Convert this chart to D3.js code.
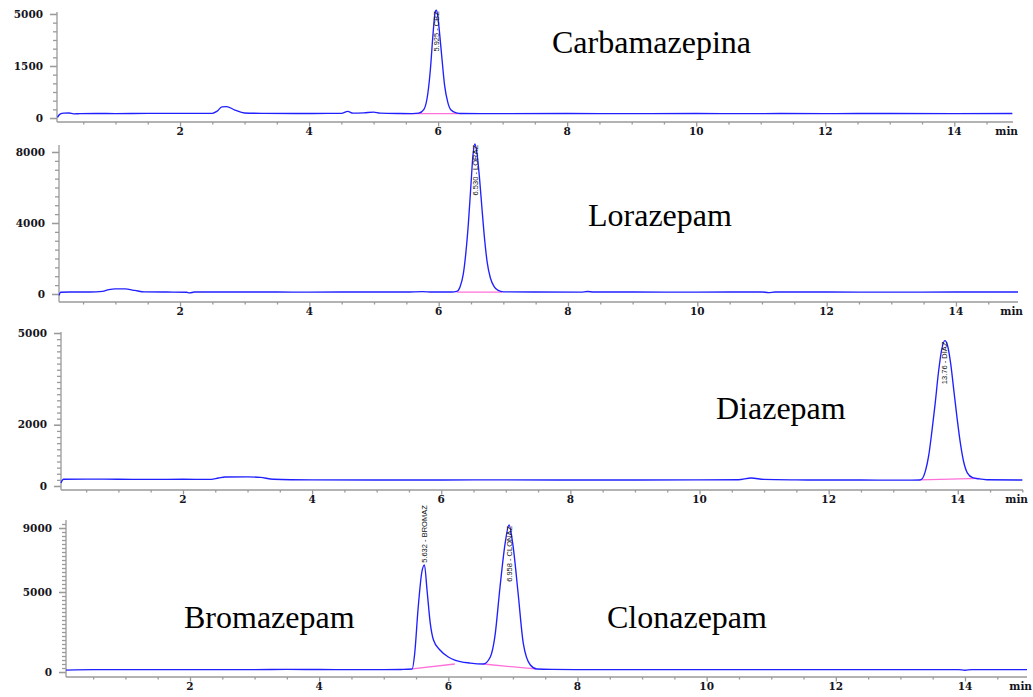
<!DOCTYPE html>
<html>
<head>
<meta charset="utf-8">
<script src="https://cdn.jsdelivr.net/npm/d3@7"></script>
<style>
  body {
    margin: 0;
    background: #fff;
  }

  #chart {
    display: block;
  }

  .trace {
    fill: none;
    stroke: #2020ff;
    stroke-width: 1.35px;
  }

  .baseline {
    fill: none;
    stroke: #ff70d8;
    stroke-width: 1.3px;
  }

  .axis-line,
  .tick-mark {
    stroke: #9a9a9a;
    stroke-width: 1.3px;
  }

  .tick-label {
    font-family: "DejaVu Serif", serif;
    font-weight: bold;
    font-size: 10.5px;
    fill: #141420;
  }

  .peak-label {
    font-family: "Liberation Sans", Arial, sans-serif;
    font-size: 7.5px;
    fill: #111;
  }

  .compound {
    font-family: "Liberation Serif", "Times New Roman", serif;
    font-size: 32px;
    fill: #000;
  }
</style>
</head>
<body>
<svg id="chart" width="1033" height="697"></svg>
<script>
// ---- data (time in min, signal) ----
const xMajorTicks = [2, 4, 6, 8, 10, 12, 14];

const carbaTrace = [
  [0.10, 20], [0.14, 110], [0.2, 140], [0.28, 145], [0.35, 120], [0.45, 125],
  [0.7, 130], [1.0, 128], [1.5, 135], [2.0, 132], [2.3, 135], [2.5, 135],
  [2.57, 190], [2.65, 320], [2.72, 330], [2.85, 230], [3.0, 145], [3.3, 135],
  [3.8, 130], [4.3, 132], [4.5, 132], [4.6, 190], [4.68, 140], [4.85, 150],
  [5.0, 170], [5.1, 140], [5.4, 130], [5.6, 128], [5.7, 140], [5.78, 250],
  [5.84, 700], [5.88, 1400], [5.92, 2400], [5.95, 3000], [5.97, 3110],
  [5.99, 3000], [6.02, 2500], [6.06, 1700], [6.1, 950], [6.15, 450],
  [6.2, 230], [6.28, 150], [6.36, 130], [7, 128], [8, 130], [9, 125],
  [10, 130], [10.8, 125], [11.3, 130], [12, 128], [13, 130], [14, 128],
  [14.9, 130]
];
const carbaBase = [[5.44, 125], [6.36, 128]];
const carbaYTicks = [0, 1500, 3000];
const carbaYLabels = ["0", "1500", "5000"];
const carbaPeaks = [[5.97, 3110, "5.925 - CBZ"]];

const loraTrace = [
  [0.13, -80], [0.15, 100], [0.3, 110], [0.6, 115], [0.8, 150], [0.9, 250],
  [1.0, 290], [1.15, 285], [1.3, 200], [1.45, 120], [1.8, 110], [2.1, 100],
  [2.15, 60], [2.22, 110], [2.6, 110], [3.0, 115], [3.5, 110], [4.0, 105],
  [4.5, 110], [5.0, 115], [5.5, 110], [5.75, 130], [5.9, 110], [6.2, 115],
  [6.28, 150], [6.33, 400], [6.38, 1100], [6.42, 2300], [6.46, 4000],
  [6.5, 6200], [6.53, 7800], [6.56, 8450], [6.59, 8000], [6.63, 6600],
  [6.67, 4800], [6.71, 3100], [6.75, 1800], [6.8, 900], [6.86, 400],
  [6.92, 200], [7.0, 120], [7.5, 110], [8.2, 105], [8.3, 140], [8.4, 110],
  [9.0, 110], [10.0, 105], [11.0, 115], [11.1, 80], [11.2, 110], [12, 110],
  [13, 105], [14, 110], [14.96, 110]
];
const loraBase = [[6.28, 100], [6.98, 100]];
const loraYTicks = [0, 4000, 8000];
const loraYLabels = ["0", "4000", "8000"];
const loraPeaks = [[6.56, 8450, "6.530 - LORAZ"]];

const diazTrace = [
  [0.11, 100], [0.15, 220], [0.5, 225], [1.0, 220], [1.5, 215], [2.0, 220],
  [2.4, 215], [2.55, 260], [2.65, 295], [3.0, 300], [3.2, 280], [3.4, 220],
  [4.0, 200], [5, 195], [6, 195], [7, 200], [8, 195], [9, 195], [10, 200],
  [10.6, 205], [10.8, 260], [11.0, 215], [11.5, 200], [12, 195], [12.5, 195],
  [13, 190], [13.41, 195], [13.45, 240], [13.5, 500], [13.55, 1000],
  [13.6, 1800], [13.65, 2700], [13.7, 3700], [13.75, 4450], [13.8, 4750],
  [13.84, 4600], [13.89, 4000], [13.94, 3100], [13.99, 2200], [14.04, 1400],
  [14.09, 800], [14.15, 420], [14.23, 270], [14.33, 230], [14.45, 205],
  [15.0, 195]
];
const diazBase = [[13.41, 200], [14.34, 250]];
const diazYTicks = [0, 2000, 5000];
const diazYLabels = ["0", "2000", "5000"];
const diazPeaks = [[13.8, 4750, "13.76 - DIAZ"]];

const mixTrace = [
  [0.08, 120], [0.5, 150], [1, 150], [2, 150], [3, 150], [3.5, 160],
  [4, 155], [4.5, 150], [5.0, 150], [5.3, 160], [5.44, 190], [5.48, 1190],
  [5.53, 3875], [5.59, 6250], [5.63, 6700], [5.67, 5125], [5.72, 3060],
  [5.77, 2000], [5.87, 1375], [6.0, 940], [6.1, 750], [6.34, 560],
  [6.54, 500], [6.65, 940], [6.72, 2190], [6.8, 5300], [6.88, 8060],
  [6.94, 9190], [7.0, 7940], [7.08, 4940], [7.16, 1810], [7.27, 440],
  [7.37, 190], [7.6, 160], [8, 150], [9, 150], [10, 150], [11, 150],
  [12, 150], [13, 150], [13.9, 150], [14.0, 110], [14.1, 150], [14.96, 150]
];
const bromBase = [[5.44, 190], [6.1, 500]];
const clonBase = [[6.54, 500], [7.35, 190]];
const mixYTicks = [0, 5000, 9000];
const mixYLabels = ["0", "5000", "9000"];
const mixPeaks = [
  [5.63, 6700, "5.632 - BROMAZ"],
  [6.94, 9190, "6.958 - CLONAZ"]
];

const compoundNames = ["Carbamazepina", "Lorazepam", "Diazepam", "Bromazepam", "Clonazepam"];

// ---- panel layout ----
const panels = [
  {
    left: 57, right: 1013, top: 12, bottom: 122,
    xDomain: [0.093, 14.91], yDomain: [-115, 3057], yMinor: 250,
    trace: carbaTrace, bases: [carbaBase], peaks: carbaPeaks,
    yTicks: carbaYTicks, yLabels: carbaYLabels,
    names: [[compoundNames[0], 552, 53]]
  },
  {
    left: 59, right: 1018, top: 145, bottom: 302,
    xDomain: [0.128, 14.96], yDomain: [-451, 8394], yMinor: 500,
    trace: loraTrace, bases: [loraBase], peaks: loraPeaks,
    yTicks: loraYTicks, yLabels: loraYLabels,
    names: [[compoundNames[1], 588, 226]]
  },
  {
    left: 61, right: 1023, top: 332, bottom: 490,
    xDomain: [0.111, 15.01], yDomain: [-131, 5033], yMinor: 200,
    trace: diazTrace, bases: [diazBase], peaks: diazPeaks,
    yTicks: diazYTicks, yLabels: diazYLabels,
    names: [[compoundNames[2], 716, 419]]
  },
  {
    left: 66, right: 1027, top: 520, bottom: 677,
    xDomain: [0.08, 14.96], yDomain: [-312, 9500], yMinor: 250,
    trace: mixTrace, bases: [bromBase, clonBase], peaks: mixPeaks,
    yTicks: mixYTicks, yLabels: mixYLabels,
    names: [[compoundNames[3], 184, 628], [compoundNames[4], 607, 628]]
  }
];

const svg = d3.select("#chart");

panels.forEach((p) => {
  const g = svg.append("g");

  const x = d3.scaleLinear().domain(p.xDomain).range([p.left, p.right]);
  const y = d3.scaleLinear().domain(p.yDomain).range([p.bottom, p.top]);

  //=== x axis ===
  const xAxis = d3
    .axisBottom(x)
    .tickValues(d3.range(0.5, 15.01, 0.5).filter((t) => t > p.xDomain[0] && t < p.xDomain[1]))
    .tickSize(0)
    .tickFormat("");
  const gx = g.append("g").attr("transform", `translate(0,${p.bottom})`).call(xAxis);
  gx.select(".domain").remove();
  gx.selectAll(".tick line")
    .attr("class", "tick-mark")
    .attr("y2", (d) => (xMajorTicks.includes(d) ? 4.5 : 2.5));

  g.selectAll(".x-label")
    .data(xMajorTicks)
    .join("text")
    .attr("class", "tick-label")
    .attr("x", (d) => x(d))
    .attr("y", p.bottom + 13)
    .attr("text-anchor", "middle")
    .text((d) => d);

  g.append("text")
    .attr("class", "tick-label")
    .attr("x", p.right + 5)
    .attr("y", p.bottom + 13)
    .attr("text-anchor", "end")
    .text("min");

  //=== y axis ===
  const minor = d3.range(0, p.yDomain[1], p.yMinor);
  const yAxis = d3.axisLeft(y).tickValues(minor.concat(p.yTicks)).tickSize(0).tickFormat("");
  const gy = g.append("g").attr("transform", `translate(${p.left},0)`).call(yAxis);
  gy.select(".domain").remove();
  gy.selectAll(".tick line")
    .attr("class", "tick-mark")
    .attr("x2", (d) => (p.yTicks.includes(d) ? -7 : -4));

  g.selectAll(".y-label")
    .data(p.yTicks)
    .join("text")
    .attr("class", "tick-label")
    .attr("x", p.left - 14)
    .attr("y", (d) => y(d))
    .attr("dy", "0.35em")
    .attr("text-anchor", "end")
    .text((d, i) => p.yLabels[i]);

  //=== axis lines ===
  g.append("line")
    .attr("class", "axis-line")
    .attr("x1", p.left).attr("x2", p.left)
    .attr("y1", p.top).attr("y2", p.bottom);
  g.append("line")
    .attr("class", "axis-line")
    .attr("x1", p.left).attr("x2", p.right)
    .attr("y1", p.bottom).attr("y2", p.bottom);

  const line = d3
    .line()
    .x((d) => x(d[0]))
    .y((d) => y(d[1]))
    .curve(d3.curveMonotoneX);

  //=== integration baselines + trace ===
  p.bases.forEach((b) => {
    g.append("path").datum(b).attr("class", "baseline").attr("d", line);
  });
  g.append("path").datum(p.trace).attr("class", "trace").attr("d", line);

  //=== peak labels ===
  p.peaks.forEach(([t, v, label]) => {
    const px = x(t);
    const py = y(v);
    const roomy = py - p.top > 30;
    g.append("text")
      .attr("class", "peak-label")
      .attr("transform", `translate(${px},${roomy ? py - 2 : py + 1}) rotate(-90)`)
      .attr("dy", "0.35em")
      .attr("text-anchor", roomy ? "start" : "end")
      .text(label);
  });

  //=== compound names ===
  p.names.forEach(([name, nx, ny]) => {
    g.append("text").attr("class", "compound").attr("x", nx).attr("y", ny).text(name);
  });
});
</script>
</body>
</html>
